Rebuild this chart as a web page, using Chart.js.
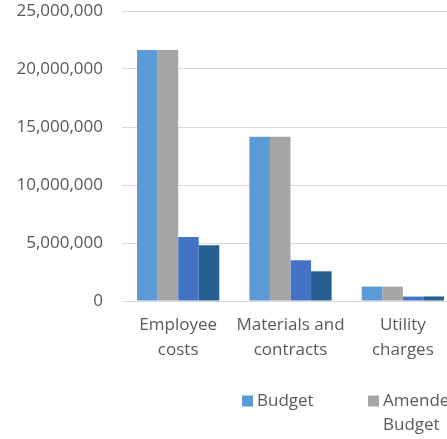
<!DOCTYPE html>
<html>
<head>
<meta charset="utf-8">
<script src="https://cdn.jsdelivr.net/npm/chart.js@4"></script>
<style>
  html, body { margin: 0; padding: 0; background: #fff; overflow: hidden; }
  #wrap { position: absolute; left: 0; top: 0; width: 470px; height: 439px; }
</style>
</head>
<body>
<div id="wrap"><canvas id="chart"></canvas></div>
<script>
"use strict";

const categories = [["Employee", "costs"], ["Materials and", "contracts"], ["Utility", "charges"]];
const seriesNames = ["Budget", "Amended Budget", "Actual", "Committed"];
const budget = [21630000, 14150000, 1240000];
const amendedBudget = [21630000, 14150000, 1240000];
const actual = [5520000, 3510000, 380000];
const committed = [4810000, 2560000, 390000];
const yTicks = [0, 5000000, 10000000, 15000000, 20000000, 25000000];

const colors = ["#5B9BD5", "#A5A5A5", "#4472C4", "#255E91"];
const textColor = "#595959";
const gridColor = "#D9D9D9";
const fontFamily = "'Open Sans', 'Liberation Sans', sans-serif";

// legend drawn by hand so long names wrap like the original
const wrapLegend = {
  id: "wrapLegend",
  afterDraw(chart) {
    const ctx = chart.ctx;
    const startX = 242, stepX = 126, y0 = 401, lineH = 24, box = 11;
    ctx.save();
    ctx.font = "17px " + fontFamily;
    ctx.textBaseline = "middle";
    chart.data.datasets.forEach((ds, i) => {
      const x = startX + i * stepX;
      ctx.fillStyle = ds.backgroundColor;
      ctx.fillRect(x, y0 - box / 2, box, box);
      ctx.fillStyle = textColor;
      const maxW = stepX - box - 10;
      const words = ds.label.split(" ");
      let lines = [], cur = "";
      words.forEach((w) => {
        const test = cur ? cur + " " + w : w;
        if (cur && ctx.measureText(test).width > maxW) {
          lines.push(cur);
          cur = w;
        } else {
          cur = test;
        }
      });
      lines.push(cur);
      lines.forEach((ln, k) => ctx.fillText(ln, x + box + 4, y0 + k * lineH));
    });
    ctx.restore();
  },
};

const datasets = [budget, amendedBudget, actual, committed].map((d, i) => ({
  label: seriesNames[i],
  data: d,
  backgroundColor: colors[i],
  borderWidth: 0,
  categoryPercentage: 0.732,
  barPercentage: 1.0,
}));

new Chart(document.getElementById("chart"), {
  type: "bar",
  data: { labels: categories, datasets: datasets },
  plugins: [wrapLegend],
  options: {
    responsive: true,
    maintainAspectRatio: false,
    animation: false,
    layout: { padding: { top: 0, right: 11, bottom: 60, left: 0 } },
    plugins: { legend: { display: false }, tooltip: { enabled: false } },
    scales: {
      x: {
        grid: { display: false, drawTicks: false },
        border: { display: true, color: gridColor },
        ticks: {
          color: textColor,
          padding: 12,
          maxRotation: 0,
          autoSkip: false,
          font: { family: fontFamily, size: 17, lineHeight: 1.45 },
        },
        afterFit: (scale) => { scale.height = 78; },
      },
      y: {
        min: 0,
        max: 25000000,
        afterBuildTicks: (scale) => { scale.ticks = yTicks.map((v) => ({ value: v })); },
        grid: { color: gridColor, lineWidth: 1, drawTicks: false },
        border: { display: false },
        ticks: {
          color: textColor,
          padding: 19,
          font: { family: fontFamily, size: 17 },
          callback: (v) => v.toLocaleString("en-US"),
        },
        afterFit: (scale) => { scale.width = 122; scale.paddingTop = 11; scale.paddingBottom = 0; },
      },
    },
  },
});
</script>
</body>
</html>
